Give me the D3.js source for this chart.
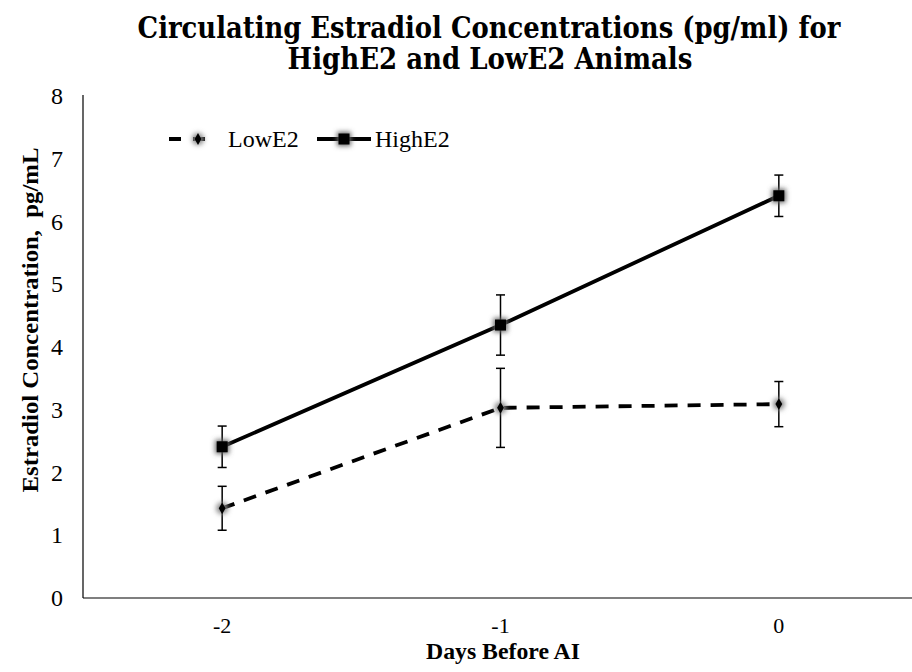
<!DOCTYPE html>
<html>
<head>
<meta charset="utf-8">
<script src="https://cdn.jsdelivr.net/npm/d3@7"></script>
<style>
  body { margin: 0; background: #fff; }
  svg { display: block; }
</style>
</head>
<body>
<div id="chart"></div>
<script>
// data
const days = ["-2", "-1", "0"];
const highE2 = [2.41, 4.35, 6.41];
const highE2Err = [0.33, 0.48, 0.33];
const lowE2 = [1.43, 3.03, 3.09];
const lowE2Err = [0.35, 0.63, 0.36];
const yTicks = [0, 1, 2, 3, 4, 5, 6, 7, 8];
const titleLines = ["Circulating Estradiol Concentrations (pg/ml) for", "HighE2 and LowE2 Animals"];

const width = 912, height = 672;
const margin = { top: 96, bottom: 74, left: 83 };
const serif = "'Liberation Serif', 'Times New Roman', serif";

const svg = d3.select("#chart").append("svg")
    .attr("width", width)
    .attr("height", height);

// soft shadow behind the markers
const defs = svg.append("defs");
defs.append("filter").attr("id", "glow")
    .attr("x", "-100%").attr("y", "-100%").attr("width", "300%").attr("height", "300%")
    .append("feGaussianBlur").attr("stdDeviation", 2.5);

const x = d3.scaleBand()
    .domain(days)
    .range([margin.left, 918]);

const y = d3.scaleLinear()
    .domain([0, 8])
    .range([height - margin.bottom, margin.top]);

const cx = d => x(d) + x.bandwidth() / 2;

// squeeze a centred text to a given width (the reference fonts are narrow)
function fitText(text, px, py, w, rot) {
    const natural = text.node().getComputedTextLength();
    const s = w / natural;
    text.attr("x", 0).attr("y", 0)
        .attr("transform", "translate(" + px + "," + py + ")" + (rot ? " rotate(" + rot + ")" : "") + " scale(" + s + ",1)");
}

//axes as plain lines, no tick marks
svg.append("line")
    .attr("x1", margin.left).attr("x2", margin.left)
    .attr("y1", y(8) - 1).attr("y2", y(0))
    .attr("stroke", "#000").attr("stroke-width", 1.2);
svg.append("line")
    .attr("x1", margin.left).attr("x2", width)
    .attr("y1", y(0)).attr("y2", y(0))
    .attr("stroke", "#000").attr("stroke-width", 1.2);

svg.append("g").selectAll("text")
    .data(yTicks)
    .enter().append("text")
    .attr("x", 57)
    .attr("y", d => y(d) + 8)
    .attr("text-anchor", "middle")
    .style("font-family", serif)
    .style("font-size", "24px")
    .text(d => d);

svg.append("g").selectAll("text")
    .data(days)
    .enter().append("text")
    .attr("x", d => cx(d))
    .attr("y", 633)
    .attr("text-anchor", "middle")
    .style("font-family", serif)
    .style("font-size", "22px")
    .text(d => d);

// axis titles
const xTitle = svg.append("text")
    .attr("text-anchor", "middle")
    .style("font-family", serif)
    .style("font-weight", "bold")
    .style("font-size", "23px")
    .text("Days Before AI");
fitText(xTitle, 503, 659, 154);

const yTitle = svg.append("text")
    .attr("text-anchor", "middle")
    .attr("xml:space", "preserve")
    .style("font-family", serif)
    .style("font-weight", "bold")
    .style("font-size", "23px")
    .text("Estradiol Concentration,  pg/mL");
fitText(yTitle, 38, 320, 345, -90);

// chart title
const t1 = svg.append("text")
    .attr("text-anchor", "middle")
    .style("font-family", "'DejaVu Serif', serif")
    .style("font-weight", "bold")
    .style("font-size", "29px")
    .text(titleLines[0]);
fitText(t1, 489, 38, 703);
const t2 = svg.append("text")
    .attr("text-anchor", "middle")
    .style("font-family", "'DejaVu Serif', serif")
    .style("font-weight", "bold")
    .style("font-size", "29px")
    .text(titleLines[1]);
fitText(t2, 490, 69, 405);

const series = [
    { name: "LowE2", values: lowE2, err: lowE2Err, dash: "13,10", marker: "diamond" },
    { name: "HighE2", values: highE2, err: highE2Err, dash: null, marker: "square" }
];

const line = d3.line()
    .x((d, i) => cx(days[i]))
    .y(d => y(d));

function drawMarker(g, kind, px, py) {
    if (kind === "square") {
        g.append("rect")
            .attr("x", px - 7).attr("y", py - 7)
            .attr("width", 14).attr("height", 14)
            .attr("fill", "#666").attr("filter", "url(#glow)");
        g.append("rect")
            .attr("x", px - 5.5).attr("y", py - 5.5)
            .attr("width", 11).attr("height", 11)
            .attr("fill", "#000");
    } else {
        g.append("circle")
            .attr("cx", px).attr("cy", py).attr("r", 6)
            .attr("fill", "#888").attr("filter", "url(#glow)");
        g.append("path")
            .attr("d", d3.symbol().type(d3.symbolDiamond).size(40)())
            .attr("transform", "translate(" + px + "," + py + ")")
            .attr("fill", "#000");
    }
}

series.forEach(s => {
    const g = svg.append("g");

    // error bars
    s.values.forEach((v, i) => {
        const px = cx(days[i]);
        const lo = y(v - s.err[i]), hi = y(v + s.err[i]);
        g.append("line")
            .attr("x1", px).attr("x2", px).attr("y1", lo).attr("y2", hi)
            .attr("stroke", "#000").attr("stroke-width", 1.5);
        [lo, hi].forEach(yy => {
            g.append("line")
                .attr("x1", px - 4.5).attr("x2", px + 4.5).attr("y1", yy).attr("y2", yy)
                .attr("stroke", "#000").attr("stroke-width", 1.5);
        });
    });

    g.append("path")
        .datum(s.values)
        .attr("d", line)
        .attr("fill", "none")
        .attr("stroke", "#000")
        .attr("stroke-width", 3.8)
        .attr("stroke-dasharray", s.dash);

    s.values.forEach((v, i) => drawMarker(g, s.marker, cx(days[i]), y(v)));
});

// legend
const legendItems = [
    { s: series[0], x1: 169, x2: 210, mx: 198, tx: 228 },
    { s: series[1], x1: 317, x2: 371, mx: 344, tx: 375 }
];
legendItems.forEach(l => {
    const g = svg.append("g");
    g.append("line")
        .attr("x1", l.x1).attr("x2", l.x2).attr("y1", 139).attr("y2", 139)
        .attr("stroke", "#000").attr("stroke-width", 3.8)
        .attr("stroke-dasharray", l.s.dash ? "12,12" : null);
    drawMarker(g, l.s.marker, l.mx, 139);
    g.append("text")
        .attr("x", l.tx).attr("y", 147)
        .style("font-family", serif)
        .style("font-size", "24px")
        .text(l.s.name);
});
</script>
</body>
</html>
